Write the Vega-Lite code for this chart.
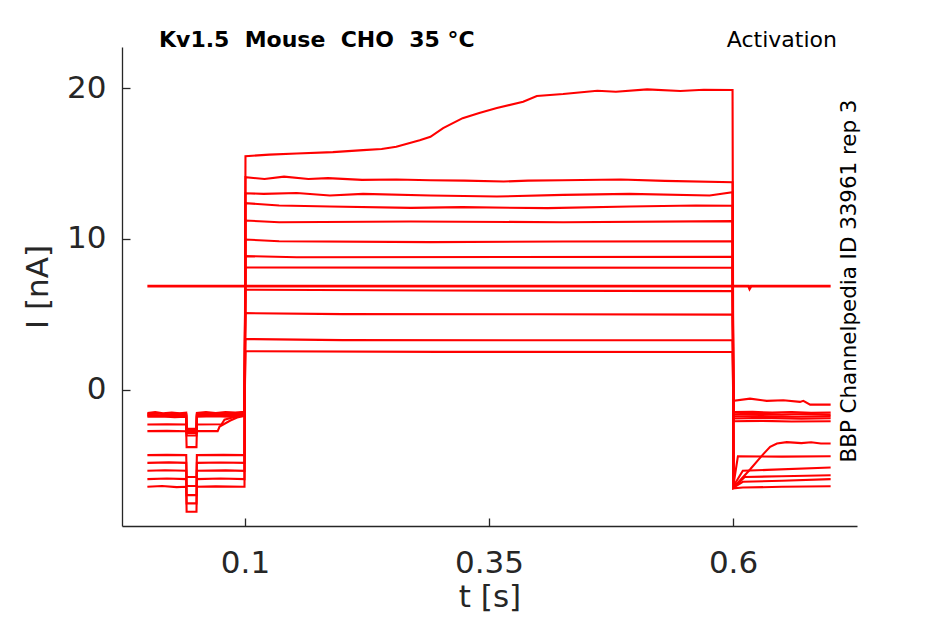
{
  "$schema": "https://vega.github.io/schema/vega-lite/v6.json",
  "width": 735,
  "height": 479,
  "autosize": "none",
  "padding": {"left": 122, "top": 47, "right": 88, "bottom": 98},
  "background": "white",
  "config": {
    "view": {"stroke": null},
    "font": "DejaVu Sans",
    "axis": {
      "grid": false,
      "domainColor": "#262626",
      "domainWidth": 1.3,
      "tickColor": "#262626",
      "tickWidth": 1.3,
      "tickSize": -8,
      "labelColor": "#262626",
      "titleColor": "#262626",
      "labelFont": "DejaVu Sans",
      "titleFont": "DejaVu Sans",
      "labelFontSize": 31,
      "titleFontSize": 31,
      "titleFontWeight": "normal"
    }
  },
  "datasets": {
    "traces": [
      {"s": 1, "t": 0, "v": -6.45}, {"s": 1, "t": 0.015, "v": -6.4}, {"s": 1, "t": 0.03, "v": -6.47},
      {"s": 1, "t": 0.0398, "v": -6.45}, {"s": 1, "t": 0.0402, "v": -8.1}, {"s": 1, "t": 0.0503, "v": -8.1},
      {"s": 1, "t": 0.0507, "v": -6.45}, {"s": 1, "t": 0.07, "v": -6.42}, {"s": 1, "t": 0.0995, "v": -6.45},
      {"s": 1, "t": 0.1005, "v": 15.48}, {"s": 1, "t": 0.125, "v": 15.58}, {"s": 1, "t": 0.153, "v": 15.66},
      {"s": 1, "t": 0.19, "v": 15.75}, {"s": 1, "t": 0.221, "v": 15.88}, {"s": 1, "t": 0.24, "v": 15.95},
      {"s": 1, "t": 0.255, "v": 16.1}, {"s": 1, "t": 0.279, "v": 16.54},
      {"s": 1, "t": 0.29, "v": 16.76}, {"s": 1, "t": 0.303, "v": 17.34}, {"s": 1, "t": 0.323, "v": 18.0},
      {"s": 1, "t": 0.34, "v": 18.35}, {"s": 1, "t": 0.358, "v": 18.67}, {"s": 1, "t": 0.385, "v": 19.09},
      {"s": 1, "t": 0.399, "v": 19.47}, {"s": 1, "t": 0.426, "v": 19.6}, {"s": 1, "t": 0.461, "v": 19.82},
      {"s": 1, "t": 0.48, "v": 19.75}, {"s": 1, "t": 0.512, "v": 19.91}, {"s": 1, "t": 0.546, "v": 19.8},
      {"s": 1, "t": 0.57, "v": 19.88}, {"s": 1, "t": 0.5995, "v": 19.87},
      {"s": 1, "t": 0.6005, "v": -6.5}, {"s": 1, "t": 0.6174, "v": -5.3}, {"s": 1, "t": 0.631, "v": -4.28},
      {"s": 1, "t": 0.638, "v": -3.8}, {"s": 1, "t": 0.645, "v": -3.58}, {"s": 1, "t": 0.655, "v": -3.49},
      {"s": 1, "t": 0.67, "v": -3.55}, {"s": 1, "t": 0.68, "v": -3.5}, {"s": 1, "t": 0.69, "v": -3.58},
      {"s": 1, "t": 0.7, "v": -3.58},

      {"s": 2, "t": 0, "v": -5.94}, {"s": 2, "t": 0.02, "v": -5.9}, {"s": 2, "t": 0.0398, "v": -5.94},
      {"s": 2, "t": 0.0402, "v": -7.55}, {"s": 2, "t": 0.0503, "v": -7.55}, {"s": 2, "t": 0.0507, "v": -5.94},
      {"s": 2, "t": 0.075, "v": -5.9}, {"s": 2, "t": 0.0995, "v": -5.94},
      {"s": 2, "t": 0.1005, "v": 14.08}, {"s": 2, "t": 0.12, "v": 13.97}, {"s": 2, "t": 0.14, "v": 14.12},
      {"s": 2, "t": 0.165, "v": 13.97}, {"s": 2, "t": 0.185, "v": 14.02}, {"s": 2, "t": 0.22, "v": 13.91},
      {"s": 2, "t": 0.255, "v": 13.93}, {"s": 2, "t": 0.29, "v": 13.88}, {"s": 2, "t": 0.325, "v": 13.86},
      {"s": 2, "t": 0.365, "v": 13.8}, {"s": 2, "t": 0.39, "v": 13.86}, {"s": 2, "t": 0.425, "v": 13.88},
      {"s": 2, "t": 0.485, "v": 13.93}, {"s": 2, "t": 0.53, "v": 13.84}, {"s": 2, "t": 0.5995, "v": 13.75},
      {"s": 2, "t": 0.6005, "v": -6.55}, {"s": 2, "t": 0.61, "v": -6.5}, {"s": 2, "t": 0.65, "v": -6.45},
      {"s": 2, "t": 0.7, "v": -6.41},

      {"s": 3, "t": 0, "v": -5.39}, {"s": 3, "t": 0.018, "v": -5.35}, {"s": 3, "t": 0.0398, "v": -5.39},
      {"s": 3, "t": 0.0402, "v": -7.0}, {"s": 3, "t": 0.0503, "v": -7.0}, {"s": 3, "t": 0.0507, "v": -5.39},
      {"s": 3, "t": 0.08, "v": -5.36}, {"s": 3, "t": 0.0995, "v": -5.39},
      {"s": 3, "t": 0.1005, "v": 13.02}, {"s": 3, "t": 0.119, "v": 12.98}, {"s": 3, "t": 0.153, "v": 13.04},
      {"s": 3, "t": 0.187, "v": 12.87}, {"s": 3, "t": 0.221, "v": 12.98}, {"s": 3, "t": 0.29, "v": 12.87},
      {"s": 3, "t": 0.358, "v": 12.8}, {"s": 3, "t": 0.426, "v": 12.91}, {"s": 3, "t": 0.494, "v": 12.98},
      {"s": 3, "t": 0.576, "v": 12.87}, {"s": 3, "t": 0.5995, "v": 13.09},
      {"s": 3, "t": 0.6005, "v": -6.5}, {"s": 3, "t": 0.61, "v": -6.12}, {"s": 3, "t": 0.65, "v": -6.05},
      {"s": 3, "t": 0.7, "v": -5.94},

      {"s": 4, "t": 0, "v": -4.86}, {"s": 4, "t": 0.022, "v": -4.83}, {"s": 4, "t": 0.0398, "v": -4.86},
      {"s": 4, "t": 0.0402, "v": -6.4}, {"s": 4, "t": 0.0503, "v": -6.4}, {"s": 4, "t": 0.0507, "v": -4.86},
      {"s": 4, "t": 0.075, "v": -4.84}, {"s": 4, "t": 0.0995, "v": -4.86},
      {"s": 4, "t": 0.1005, "v": 12.36}, {"s": 4, "t": 0.135, "v": 12.21}, {"s": 4, "t": 0.187, "v": 12.14},
      {"s": 4, "t": 0.27, "v": 12.05}, {"s": 4, "t": 0.323, "v": 12.1}, {"s": 4, "t": 0.41, "v": 12.03},
      {"s": 4, "t": 0.494, "v": 12.14}, {"s": 4, "t": 0.562, "v": 12.21}, {"s": 4, "t": 0.5995, "v": 12.19},
      {"s": 4, "t": 0.6005, "v": -6.5}, {"s": 4, "t": 0.612, "v": -5.8}, {"s": 4, "t": 0.65, "v": -5.75},
      {"s": 4, "t": 0.7, "v": -5.68},

      {"s": 5, "t": 0, "v": -4.35}, {"s": 5, "t": 0.02, "v": -4.33}, {"s": 5, "t": 0.0398, "v": -4.35},
      {"s": 5, "t": 0.0402, "v": -5.8}, {"s": 5, "t": 0.0503, "v": -5.8}, {"s": 5, "t": 0.0507, "v": -4.35},
      {"s": 5, "t": 0.078, "v": -4.33}, {"s": 5, "t": 0.0995, "v": -4.35},
      {"s": 5, "t": 0.1005, "v": 11.21}, {"s": 5, "t": 0.135, "v": 11.1}, {"s": 5, "t": 0.27, "v": 11.15},
      {"s": 5, "t": 0.426, "v": 11.1}, {"s": 5, "t": 0.5995, "v": 11.17},
      {"s": 5, "t": 0.6005, "v": -6.4}, {"s": 5, "t": 0.61, "v": -5.39}, {"s": 5, "t": 0.635, "v": -5.33},
      {"s": 5, "t": 0.7, "v": -5.17},

      {"s": 6, "t": 0, "v": -2.76}, {"s": 6, "t": 0.02, "v": -2.74}, {"s": 6, "t": 0.0398, "v": -2.76},
      {"s": 6, "t": 0.0402, "v": -3.82}, {"s": 6, "t": 0.0503, "v": -3.82}, {"s": 6, "t": 0.0507, "v": -2.76},
      {"s": 6, "t": 0.072, "v": -2.76}, {"s": 6, "t": 0.074, "v": -2.45}, {"s": 6, "t": 0.085, "v": -2.05},
      {"s": 6, "t": 0.092, "v": -1.85}, {"s": 6, "t": 0.0995, "v": -1.75},
      {"s": 6, "t": 0.1005, "v": 9.95}, {"s": 6, "t": 0.135, "v": 9.84}, {"s": 6, "t": 0.29, "v": 9.78},
      {"s": 6, "t": 0.426, "v": 9.82}, {"s": 6, "t": 0.5995, "v": 9.84},
      {"s": 6, "t": 0.6005, "v": -6.3}, {"s": 6, "t": 0.605, "v": -4.42}, {"s": 6, "t": 0.65, "v": -4.45},
      {"s": 6, "t": 0.7, "v": -4.42},

      {"s": 7, "t": 0, "v": -2.32}, {"s": 7, "t": 0.02, "v": -2.3}, {"s": 7, "t": 0.0398, "v": -2.32},
      {"s": 7, "t": 0.0402, "v": -3.05}, {"s": 7, "t": 0.0503, "v": -3.05}, {"s": 7, "t": 0.0507, "v": -2.32},
      {"s": 7, "t": 0.076, "v": -2.3}, {"s": 7, "t": 0.079, "v": -2.0}, {"s": 7, "t": 0.09, "v": -1.8},
      {"s": 7, "t": 0.0995, "v": -1.65},
      {"s": 7, "t": 0.1005, "v": 8.85}, {"s": 7, "t": 0.153, "v": 8.78}, {"s": 7, "t": 0.5995, "v": 8.8},
      {"s": 7, "t": 0.6005, "v": -0.75}, {"s": 7, "t": 0.6174, "v": -0.6}, {"s": 7, "t": 0.6345, "v": -0.75},
      {"s": 7, "t": 0.6515, "v": -0.71}, {"s": 7, "t": 0.6686, "v": -0.82}, {"s": 7, "t": 0.672, "v": -0.75},
      {"s": 7, "t": 0.679, "v": -1.0}, {"s": 7, "t": 0.7, "v": -1.0},

      {"s": 8, "t": 0, "v": -1.55}, {"s": 8, "t": 0.008, "v": -1.5}, {"s": 8, "t": 0.016, "v": -1.58},
      {"s": 8, "t": 0.025, "v": -1.52}, {"s": 8, "t": 0.033, "v": -1.57}, {"s": 8, "t": 0.0398, "v": -1.53},
      {"s": 8, "t": 0.0402, "v": -2.6}, {"s": 8, "t": 0.0503, "v": -2.6}, {"s": 8, "t": 0.0507, "v": -1.55},
      {"s": 8, "t": 0.06, "v": -1.5}, {"s": 8, "t": 0.07, "v": -1.56}, {"s": 8, "t": 0.08, "v": -1.5},
      {"s": 8, "t": 0.09, "v": -1.53}, {"s": 8, "t": 0.0995, "v": -1.48},
      {"s": 8, "t": 0.1005, "v": 8.1}, {"s": 8, "t": 0.3, "v": 8.09}, {"s": 8, "t": 0.5995, "v": 8.08},
      {"s": 8, "t": 0.6005, "v": -1.5}, {"s": 8, "t": 0.62, "v": -1.48}, {"s": 8, "t": 0.64, "v": -1.53},
      {"s": 8, "t": 0.66, "v": -1.5}, {"s": 8, "t": 0.68, "v": -1.55}, {"s": 8, "t": 0.7, "v": -1.52},

      {"s": 9, "t": 0, "v": -1.62}, {"s": 9, "t": 0.01, "v": -1.58}, {"s": 9, "t": 0.02, "v": -1.65},
      {"s": 9, "t": 0.03, "v": -1.6}, {"s": 9, "t": 0.0398, "v": -1.62}, {"s": 9, "t": 0.0402, "v": -2.65},
      {"s": 9, "t": 0.0503, "v": -2.65}, {"s": 9, "t": 0.0507, "v": -1.62}, {"s": 9, "t": 0.065, "v": -1.58},
      {"s": 9, "t": 0.08, "v": -1.63}, {"s": 9, "t": 0.0995, "v": -1.55},
      {"s": 9, "t": 0.1005, "v": 6.62}, {"s": 9, "t": 0.3, "v": 6.57}, {"s": 9, "t": 0.5995, "v": 6.53},
      {"s": 9, "t": 0.6005, "v": -1.64}, {"s": 9, "t": 0.625, "v": -1.6}, {"s": 9, "t": 0.65, "v": -1.66},
      {"s": 9, "t": 0.675, "v": -1.62}, {"s": 9, "t": 0.7, "v": -1.65},

      {"s": 10, "t": 0, "v": -1.68}, {"s": 10, "t": 0.012, "v": -1.72}, {"s": 10, "t": 0.022, "v": -1.66},
      {"s": 10, "t": 0.032, "v": -1.7}, {"s": 10, "t": 0.0398, "v": -1.68}, {"s": 10, "t": 0.0402, "v": -2.72},
      {"s": 10, "t": 0.0503, "v": -2.72}, {"s": 10, "t": 0.0507, "v": -1.68}, {"s": 10, "t": 0.062, "v": -1.64},
      {"s": 10, "t": 0.075, "v": -1.7}, {"s": 10, "t": 0.088, "v": -1.65}, {"s": 10, "t": 0.0995, "v": -1.6},
      {"s": 10, "t": 0.1005, "v": 5.07}, {"s": 10, "t": 0.2, "v": 5.0}, {"s": 10, "t": 0.4, "v": 4.99},
      {"s": 10, "t": 0.5995, "v": 4.97},
      {"s": 10, "t": 0.6005, "v": -1.78}, {"s": 10, "t": 0.63, "v": -1.75}, {"s": 10, "t": 0.66, "v": -1.8},
      {"s": 10, "t": 0.7, "v": -1.76},

      {"s": 11, "t": 0, "v": -1.74}, {"s": 11, "t": 0.01, "v": -1.7}, {"s": 11, "t": 0.02, "v": -1.76},
      {"s": 11, "t": 0.03, "v": -1.72}, {"s": 11, "t": 0.0398, "v": -1.74}, {"s": 11, "t": 0.0402, "v": -2.8},
      {"s": 11, "t": 0.0503, "v": -2.8}, {"s": 11, "t": 0.0507, "v": -1.74}, {"s": 11, "t": 0.065, "v": -1.72},
      {"s": 11, "t": 0.08, "v": -1.76}, {"s": 11, "t": 0.0995, "v": -1.65},
      {"s": 11, "t": 0.1005, "v": 3.35}, {"s": 11, "t": 0.2, "v": 3.28}, {"s": 11, "t": 0.4, "v": 3.27},
      {"s": 11, "t": 0.5995, "v": 3.27},
      {"s": 11, "t": 0.6005, "v": -1.92}, {"s": 11, "t": 0.63, "v": -1.88}, {"s": 11, "t": 0.67, "v": -1.93},
      {"s": 11, "t": 0.7, "v": -1.9},

      {"s": 12, "t": 0, "v": -1.8}, {"s": 12, "t": 0.015, "v": -1.78}, {"s": 12, "t": 0.028, "v": -1.83},
      {"s": 12, "t": 0.0398, "v": -1.8}, {"s": 12, "t": 0.0402, "v": -2.88}, {"s": 12, "t": 0.0503, "v": -2.88},
      {"s": 12, "t": 0.0507, "v": -1.8}, {"s": 12, "t": 0.07, "v": -1.77}, {"s": 12, "t": 0.085, "v": -1.8},
      {"s": 12, "t": 0.0995, "v": -1.7},
      {"s": 12, "t": 0.1005, "v": 2.54}, {"s": 12, "t": 0.3, "v": 2.5}, {"s": 12, "t": 0.5995, "v": 2.49},
      {"s": 12, "t": 0.6005, "v": -2.1}, {"s": 12, "t": 0.63, "v": -2.08}, {"s": 12, "t": 0.66, "v": -2.12},
      {"s": 12, "t": 0.7, "v": -2.1},

      {"s": 13, "t": 0, "v": 6.86}, {"s": 13, "t": 0.616, "v": 6.86}, {"s": 13, "t": 0.617, "v": 6.7},
      {"s": 13, "t": 0.6185, "v": 6.86}, {"s": 13, "t": 0.7, "v": 6.86}
    ]
  },
  "layer": [
    {
      "data": {"name": "traces"},
      "mark": {"type": "line", "color": "#ff0000", "clip": true},
      "encoding": {
        "x": {
          "field": "t", "type": "quantitative", "title": "t [s]",
          "scale": {"domain": [-0.026, 0.727], "nice": false, "zero": false},
          "axis": {"values": [0.1, 0.35, 0.6], "format": "~g", "labelPadding": 30, "titlePadding": 4}
        },
        "y": {
          "field": "v", "type": "quantitative", "title": "I [nA]",
          "scale": {"domain": [-9.05, 22.72], "nice": false, "zero": false},
          "axis": {"values": [0, 10, 20], "labelPadding": 24, "titlePadding": 12}
        },
        "detail": {"field": "s", "type": "nominal"},
        "strokeWidth": {"condition": {"test": "datum.s == 13", "value": 2.8}, "value": 2.1}
      }
    },
    {
      "data": {"values": [{"label": "Kv1.5\u00a0 Mouse\u00a0 CHO\u00a0 35 °C"}]},
      "mark": {"type": "text", "font": "DejaVu Sans", "fontSize": 22, "fontWeight": "bold", "align": "left", "baseline": "alphabetic", "color": "black"},
      "encoding": {
        "x": {"datum": 0.0119, "type": "quantitative", "title": "t [s]"},
        "y": {"datum": 22.7, "type": "quantitative", "title": "I [nA]"},
        "text": {"field": "label"}
      }
    },
    {
      "data": {"values": [{"label": "Activation"}]},
      "mark": {"type": "text", "font": "DejaVu Sans", "fontSize": 22, "align": "right", "baseline": "alphabetic", "color": "black"},
      "encoding": {
        "x": {"datum": 0.7064, "type": "quantitative", "title": "t [s]"},
        "y": {"datum": 22.7, "type": "quantitative", "title": "I [nA]"},
        "text": {"field": "label"}
      }
    },
    {
      "data": {"values": [{"label": "BBP Channelpedia ID 33961 rep 3"}]},
      "mark": {"type": "text", "font": "DejaVu Sans", "fontSize": 21.4, "align": "center", "baseline": "middle", "angle": 270, "color": "black"},
      "encoding": {
        "x": {"datum": 0.7199, "type": "quantitative", "title": "t [s]"},
        "y": {"datum": 7.2, "type": "quantitative", "title": "I [nA]"},
        "text": {"field": "label"}
      }
    }
  ]
}
